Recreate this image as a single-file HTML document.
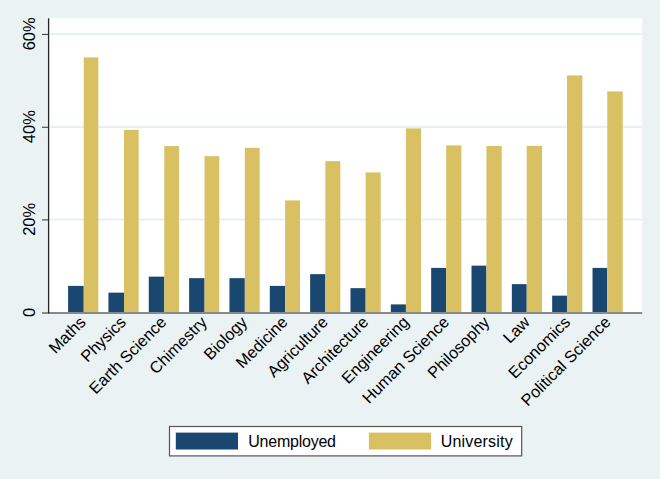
<!DOCTYPE html>
<html><head><meta charset="utf-8"><title>chart</title>
<style>html,body{margin:0;padding:0;background:#eaf2f3;}svg{display:block}text{font-family:"Liberation Sans",sans-serif;font-size:16px;fill:#000}</style></head><body>
<svg width="660" height="479" viewBox="0 0 660 479">
<rect x="0" y="0" width="660" height="479" fill="#eaf2f3"/>
<rect x="48.5" y="18.2" width="593.7" height="295" fill="#ffffff"/>
<line x1="49.8" y1="34.050000000000004" x2="642.2" y2="34.050000000000004" stroke="#e8f0f2" stroke-width="2.1"/>
<line x1="49.8" y1="126.85" x2="642.2" y2="126.85" stroke="#e8f0f2" stroke-width="2.1"/>
<line x1="49.8" y1="219.5" x2="642.2" y2="219.5" stroke="#e8f0f2" stroke-width="2.1"/>
<rect x="68.10" y="285.90" width="15.65" height="26.70" fill="#1a476f"/>
<rect x="83.75" y="57.40" width="14.55" height="255.20" fill="#d9c062"/>
<rect x="108.44" y="292.65" width="15.58" height="19.95" fill="#1a476f"/>
<rect x="124.02" y="129.90" width="14.62" height="182.70" fill="#d9c062"/>
<rect x="148.78" y="276.65" width="15.51" height="35.95" fill="#1a476f"/>
<rect x="164.29" y="146.15" width="14.69" height="166.45" fill="#d9c062"/>
<rect x="189.12" y="278.15" width="15.44" height="34.45" fill="#1a476f"/>
<rect x="204.56" y="156.15" width="14.76" height="156.45" fill="#d9c062"/>
<rect x="229.46" y="278.15" width="15.37" height="34.45" fill="#1a476f"/>
<rect x="244.83" y="147.90" width="14.83" height="164.70" fill="#d9c062"/>
<rect x="269.80" y="285.90" width="15.30" height="26.70" fill="#1a476f"/>
<rect x="285.10" y="200.40" width="14.90" height="112.20" fill="#d9c062"/>
<rect x="310.14" y="274.15" width="15.23" height="38.45" fill="#1a476f"/>
<rect x="325.37" y="161.15" width="14.97" height="151.45" fill="#d9c062"/>
<rect x="350.48" y="288.15" width="15.16" height="24.45" fill="#1a476f"/>
<rect x="365.64" y="172.40" width="15.04" height="140.20" fill="#d9c062"/>
<rect x="390.82" y="304.40" width="15.09" height="8.20" fill="#1a476f"/>
<rect x="405.91" y="128.40" width="15.11" height="184.20" fill="#d9c062"/>
<rect x="431.16" y="267.90" width="15.02" height="44.70" fill="#1a476f"/>
<rect x="446.18" y="145.40" width="15.18" height="167.20" fill="#d9c062"/>
<rect x="471.50" y="265.65" width="14.95" height="46.95" fill="#1a476f"/>
<rect x="486.45" y="146.00" width="15.25" height="166.60" fill="#d9c062"/>
<rect x="511.84" y="284.15" width="14.88" height="28.45" fill="#1a476f"/>
<rect x="526.72" y="145.90" width="15.32" height="166.70" fill="#d9c062"/>
<rect x="552.18" y="295.65" width="14.81" height="16.95" fill="#1a476f"/>
<rect x="566.99" y="75.40" width="15.39" height="237.20" fill="#d9c062"/>
<rect x="592.52" y="267.90" width="14.74" height="44.70" fill="#1a476f"/>
<rect x="607.26" y="91.40" width="15.46" height="221.20" fill="#d9c062"/>
<line x1="42" y1="313.1" x2="642.2" y2="313.1" stroke="#868a8c" stroke-width="2"/>
<line x1="48.6" y1="18.2" x2="48.6" y2="313.5" stroke="#262626" stroke-width="1.3"/>
<line x1="42" y1="34.45" x2="48.6" y2="34.45" stroke="#333" stroke-width="1"/>
<line x1="42" y1="127.25" x2="48.6" y2="127.25" stroke="#333" stroke-width="1"/>
<line x1="42" y1="219.9" x2="48.6" y2="219.9" stroke="#333" stroke-width="1"/>
<text transform="translate(34.9,33.85) rotate(-90) scale(1.045,1)" text-anchor="middle" style="font-size:15.8px">60%</text>
<text transform="translate(34.9,126.65) rotate(-90) scale(1.045,1)" text-anchor="middle" style="font-size:15.8px">40%</text>
<text transform="translate(34.9,219.3) rotate(-90) scale(1.045,1)" text-anchor="middle" style="font-size:15.8px">20%</text>
<text transform="translate(34.9,312.5) rotate(-90) scale(1.045,1)" text-anchor="middle" style="font-size:15.8px">0</text>
<text transform="translate(86.75,323.20) rotate(-45)" text-anchor="end" style="font-size:16.3px">Maths</text>
<text transform="translate(127.13,323.20) rotate(-45)" text-anchor="end" style="font-size:16.3px">Physics</text>
<text transform="translate(167.51,323.20) rotate(-45)" text-anchor="end" style="font-size:16.3px">Earth Science</text>
<text transform="translate(207.89,323.20) rotate(-45)" text-anchor="end" style="font-size:16.3px">Chimestry</text>
<text transform="translate(248.27,323.20) rotate(-45)" text-anchor="end" style="font-size:16.3px">Biology</text>
<text transform="translate(288.65,323.20) rotate(-45)" text-anchor="end" style="font-size:16.3px">Medicine</text>
<text transform="translate(329.03,323.20) rotate(-45)" text-anchor="end" style="font-size:16.3px">Agriculture</text>
<text transform="translate(369.41,323.20) rotate(-45)" text-anchor="end" style="font-size:16.3px">Architecture</text>
<text transform="translate(409.79,323.20) rotate(-45)" text-anchor="end" style="font-size:16.3px">Engineering</text>
<text transform="translate(450.17,323.20) rotate(-45)" text-anchor="end" style="font-size:16.3px">Human Science</text>
<text transform="translate(490.55,323.20) rotate(-45)" text-anchor="end" style="font-size:16.3px">Philosophy</text>
<text transform="translate(530.93,323.20) rotate(-45)" text-anchor="end" style="font-size:16.3px">Law</text>
<text transform="translate(571.31,323.20) rotate(-45)" text-anchor="end" style="font-size:16.3px">Economics</text>
<text transform="translate(611.69,323.20) rotate(-45)" text-anchor="end" style="font-size:16.3px">Political Science</text>
<rect x="169.5" y="426.5" width="352.2" height="29.4" fill="#fff" stroke="#555" stroke-width="1.2"/>
<rect x="175.8" y="432.6" width="62.2" height="16.9" fill="#1a476f"/>
<rect x="368.9" y="432.6" width="62.2" height="16.9" fill="#d9c062"/>
<text x="248.2" y="447.4" textLength="87.8" lengthAdjust="spacing">Unemployed</text>
<text x="440.7" y="447.4" textLength="72" lengthAdjust="spacing">University</text>
</svg></body></html>
